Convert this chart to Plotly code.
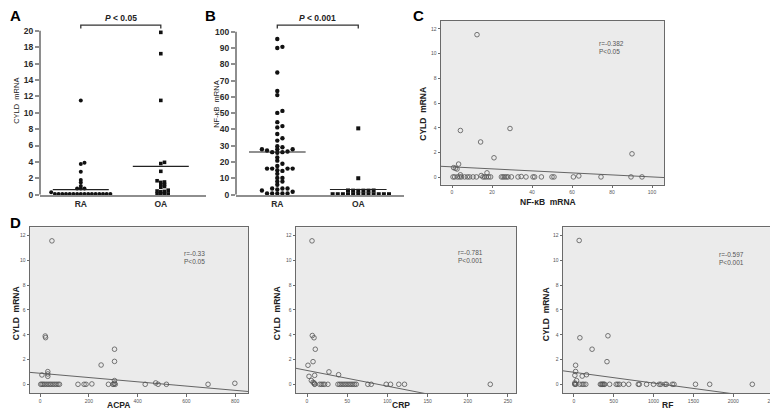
import plotly.graph_objects as go

W, H = 778, 411

# ---------------- data ----------------
groups = ["RA", "OA"]

# Panel A: CYLD mRNA
A_RA = [11.5, 3.9, 3.75, 2.8, 1.8, 1.5, 1.05, 0.75, 0.75, 0.75, 0.3,
        0.1, 0.1, 0.1, 0.1, 0.1, 0.1, 0.1, 0.1, 0.1, 0.1, 0.1, 0.1, 0.1, 0.1, 0.1, 0.1]
A_OA = [19.8, 17.2, 11.5, 3.95, 3.8, 2.85, 1.7, 1.55, 1.5, 1.25, 1.2, 1.0, 0.9,
        0.55, 0.45, 0.4, 0.35, 0.1, 0.1, 0.1, 0.1]
A_level = [0.62, 3.45]
A_ptext = "<i>P</i> < 0.05"

# Panel B: NF-kB mRNA
B_RA = [95.5, 90.7, 90.0, 75.0, 63.6, 61.1, 51.4, 50.2, 44.5, 42.1, 41.3, 37.2, 34.6,
        33.2, 29.8, 29.1, 27.9, 27.9, 27.9, 27.1, 26.5, 26.1, 26.1, 25.7, 22.9, 20.9,
        19.0, 17.6, 16.0, 16.0, 16.0, 16.0, 15.0, 14.6, 12.8, 10.3, 10.3, 8.1, 8.1, 6.1,
        3.8, 3.8, 3.8, 3.2, 2.6, 1.8, 0.8, 0.8, 0.8, 0.8, 0.8]
B_OA = [40.7, 10.1, 2.6, 2.5, 2.5, 2.4, 2.5, 2.6,
        0.3, 0.3, 0.3, 0.3, 0.3, 0.3, 0.3, 0.3, 0.3, 0.3, 0.3, 0.3]
B_level = [26.2, 3.2]
B_ptext = "<i>P</i> < 0.001"

# Panel C: CYLD vs NF-kB
C_nfkb = [12.5, 4.2, 29, 14.3, 90, 21, 3.3, 0.8, 1.7, 2.5, 17.5, 4.2, 14.6, 63.4, 34.6,
          0.5, 1.3, 2.7, 3.8, 4.7, 6.3, 7.7, 8.8, 10.5, 12.2, 15.5, 16.3, 17.2, 18.3, 19.3,
          24.7, 25.5, 26.3, 27.2, 28, 29.7, 33, 37, 40.5, 41.3, 44.7, 50, 51, 60.7, 74.5,
          89.5, 95]
C_cyld = [11.54, 3.78, 3.94, 2.85, 1.89, 1.57, 1.06, 0.77, 0.72, 0.66, 0.35, 0.19, 0.13, 0.10, 0.05,
          0.02, 0.02, 0.02, 0.02, 0.02, 0.02, 0.02, 0.02, 0.02, 0.02, 0.02, 0.02, 0.02, 0.02, 0.02,
          0.02, 0.02, 0.02, 0.02, 0.02, 0.02, 0.02, 0.02, 0.02, 0.02, 0.02, 0.02, 0.02, 0.02, 0.02,
          0.02, 0.02]
C_fit = [0.835, -0.00816]
C_stat = ["r=-0.382", "P<0.05"]

# Panel D1: CYLD vs ACPA
D1_acpa = [48, 20.5, 22, 305, 305, 250, 31, 31, 31, 7, 305, 474, 799, 305, 212,
           2, 7, 12, 18, 25, 32, 39, 45, 52, 59, 66, 73, 79, 155, 180, 188, 280, 298,
           302, 308, 431, 484, 518, 689]
D1_cyld = [11.55, 3.9, 3.77, 2.84, 1.86, 1.57, 1.04, 0.85, 0.66, 0.77, 0.32, 0.13, 0.10, 0.10, 0.05,
           0.02, 0.02, 0.02, 0.02, 0.02, 0.02, 0.02, 0.02, 0.02, 0.02, 0.02, 0.02, 0.02, 0.02,
           0.02, 0.02, 0.02, 0.02, 0.02, 0.02, 0.02, 0.02, 0.02, 0.02]
D1_fit = [0.905, -0.001713]
D1_stat = ["r=-0.33", "P<0.05"]

# Panel D2: CYLD vs CRP
D2_crp = [6.2, 6.6, 8.7, 10.3, 7.5, 1.2, 27.3, 39.3, 2.5, 9.5, 5.4, 7.5, 8.7, 9.5,
          9.5, 15.7, 17.8, 19.9, 21.9, 26, 38.5, 40.6, 42.6, 44.7, 46.8, 48.8, 50.9, 53,
          55, 57, 59.2, 61.3, 75.7, 79.9, 98.5, 103.9, 114.2, 121.3, 228]
D2_cyld = [11.55, 3.94, 3.76, 2.84, 1.84, 1.55, 1.02, 0.79, 0.66, 0.74, 0.32, 0.18, 0.13, 0.05,
           0.02, 0.02, 0.02, 0.02, 0.02, 0.02, 0.02, 0.02, 0.02, 0.02, 0.02, 0.02, 0.02, 0.02,
           0.02, 0.02, 0.02, 0.02, 0.02, 0.02, 0.02, 0.02, 0.02, 0.02, 0.02]
D2_fit = [1.133, -0.01263]
D2_stat = ["r=-0.781", "P<0.001"]

# Panel D3: CYLD vs RF
D3_rf = [66, 75, 427, 228, 415, 21, 21, 12, 158, 104, 33, 12, 12,
         12, 25, 75, 104, 124, 149, 332, 344, 357, 365, 377, 386, 448, 531, 551, 572,
         622, 688, 808, 821, 912, 999, 1070, 1091, 1144, 1161, 1235, 1256, 1526, 1704, 2239]
D3_cyld = [11.58, 3.76, 3.92, 2.84, 1.84, 1.55, 1.05, 0.74, 0.79, 0.68, 0.32, 0.13, 0.05,
           0.02, 0.02, 0.02, 0.02, 0.02, 0.02, 0.02, 0.02, 0.02, 0.02, 0.02, 0.02, 0.02, 0.02,
           0.02, 0.02, 0.02, 0.02, 0.02, 0.02, 0.02, 0.02, 0.02, 0.02, 0.02, 0.02, 0.02, 0.02,
           0.02, 0.02, 0.02]
D3_fit = [0.985, -0.000865]
D3_stat = ["r=-0.597", "P<0.001"]

# ---------------- helpers ----------------
FONT = "Liberation Sans, Arial, sans-serif"
AXG = "#8e8e8e"
BOX = "#6a6a6a"
PT = "#555555"


def pxx(px):
    return px / W


def pxy(py):
    return 1 - py / H


def swarm(vals, ypx, xpx, dx, dy):
    """deterministic beeswarm offsets (category units); rectangular collision box"""
    placed = []
    offs = [0.0] * len(vals)
    order = sorted(range(len(vals)), key=lambda i: vals[i])
    step = dx / 2
    cands = [0.0] + [s * j * step for j in range(1, 80) for s in (1, -1)]
    for i in order:
        y = vals[i] * ypx
        cx = 0.0
        for c in cands:
            if all(abs(c - px) >= dx - 1e-9 or abs(y - py) >= dy for px, py in placed):
                cx = c
                break
        placed.append((cx, y))
        offs[i] = cx / xpx
    return offs


fig = go.Figure()


# ---------- dot panels A, B ----------
def dot_panel(xa, ya, ra, oa, levels, ypx, xpx, dx, dy, msize):
    for gi, (vals, sym) in enumerate([(ra, "circle"), (oa, "square")]):
        off = swarm(vals, ypx, xpx, dx, dy)
        fig.add_trace(go.Scatter(
            x=[gi + o for o in off], y=vals, mode="markers",
            marker=dict(symbol=sym, size=msize if sym == "circle" else msize - 0.4,
                        color="#111111"),
            xaxis=xa, yaxis=ya, cliponaxis=False, showlegend=False, hoverinfo="skip"))
        fig.add_trace(go.Scatter(
            x=[gi - 0.35, gi + 0.35], y=[levels[gi], levels[gi]], mode="lines",
            line=dict(color="#222222", width=1.1),
            xaxis=xa, yaxis=ya, showlegend=False, hoverinfo="skip"))


A_YPX = 166 / 20.0
B_YPX = 165 / 100.0
dot_panel("x", "y", A_RA, A_OA, A_level, A_YPX, 80, 3.7, 2.0, 4.0)
dot_panel("x2", "y2", B_RA, B_OA, B_level, B_YPX, 79, 5.0, 3.0, 4.4)

# brackets
for xa, ya, ypx in [("x", "y", A_YPX), ("x2", "y2", B_YPX)]:
    hi = (189 - 17.3) / ypx
    lo = (189 - 20.8) / ypx
    fig.add_trace(go.Scatter(x=[0, 0, 1, 1], y=[lo, hi, hi, lo], mode="lines",
                             line=dict(color="#333333", width=1.3),
                             xaxis=xa, yaxis=ya, showlegend=False, hoverinfo="skip"))

# ---------- scatter panels ----------
scat = [
    ("x3", "y3", C_nfkb, C_cyld, C_fit, [-5.5, 106]),
    ("x4", "y4", D1_acpa, D1_cyld, D1_fit, [-42, 853]),
    ("x5", "y5", D2_crp, D2_cyld, D2_fit, [-13.7, 260]),
    ("x6", "y6", D3_rf, D3_cyld, D3_fit, [-137, 2574]),
]
for xa, ya, xs, ys, fit, xr in scat:
    fig.add_trace(go.Scatter(
        x=xs, y=ys, mode="markers",
        marker=dict(symbol="circle-open", size=4.6, color=PT, line=dict(width=0.8, color=PT)),
        xaxis=xa, yaxis=ya, showlegend=False, hoverinfo="skip"))
    fig.add_trace(go.Scatter(
        x=xr, y=[fit[0] + fit[1] * v for v in xr], mode="lines",
        line=dict(color="#555555", width=0.9),
        xaxis=xa, yaxis=ya, showlegend=False, hoverinfo="skip"))

# ---------------- layout ----------------
bold_tick = dict(family=FONT, size=8.5, color="#2a2a2a")
small_tick = dict(family=FONT, size=5, color="#555555")

layout = dict(
    width=W, height=H, margin=dict(l=0, r=0, t=0, b=0),
    paper_bgcolor="white", plot_bgcolor="white",
    font=dict(family=FONT, color="#222222"),
    showlegend=False,
)


def dot_axes(n, xd, yd, yr, tv):
    sx = "" if n == 1 else str(n)
    layout["xaxis" + sx] = dict(domain=xd, range=[-0.51, 1.565], anchor="y" + sx,
                                showline=True, linecolor=AXG, linewidth=2,
                                tickvals=[0, 1], ticktext=["<b>%s</b>" % g for g in groups],
                                ticks="", showgrid=False, zeroline=False, tickfont=bold_tick,
                                fixedrange=True)
    layout["yaxis" + sx] = dict(domain=yd, range=yr, anchor="x" + sx, showline=False,
                                tickvals=tv, ticktext=["<b>%d</b>" % v for v in tv],
                                ticks="outside", ticklen=4, tickwidth=1.5, tickcolor=AXG,
                                showgrid=False, zeroline=False, tickfont=bold_tick,
                                fixedrange=True)


dot_axes(1, [pxx(32), pxx(198)], [pxy(189), pxy(5)], [0, 184 / A_YPX], list(range(0, 21, 2)))
dot_axes(2, [pxx(228), pxx(396)], [pxy(189), pxy(5)], [0, 184 / B_YPX], list(range(0, 101, 10)))


def box_axes(n, xd, yd, xr, yr, xt):
    sx = str(n)
    common = dict(showline=True, mirror=True, linecolor=BOX, linewidth=1,
                  ticks="outside", ticklen=2.5, tickwidth=0.8, tickcolor=BOX,
                  showgrid=False, zeroline=False, tickfont=small_tick, fixedrange=True)
    layout["xaxis" + sx] = dict(domain=xd, range=xr, anchor="y" + sx, tickvals=xt, **common)
    layout["yaxis" + sx] = dict(domain=yd, range=yr, anchor="x" + sx,
                                tickvals=list(range(0, 13, 2)), **common)


box_axes(3, [pxx(433), pxx(656)], [pxy(179), pxy(13)], [-5.5, 106], [-0.62, 12.66],
         [0, 20, 40, 60, 80, 100])
box_axes(4, [pxx(22), pxx(240)], [pxy(390), pxy(222)], [-42, 853], [-0.7, 12.64],
         [0, 200, 400, 600, 800])
box_axes(5, [pxx(288), pxx(508)], [pxy(390), pxy(222)], [-13.7, 260], [-0.7, 12.64],
         [0, 50, 100, 150, 200, 250])
box_axes(6, [pxx(555), pxx(771)], [pxy(390), pxy(222)], [-137, 2574], [-0.7, 12.64],
         [0, 500, 1000, 1500, 2000, 2500])

shapes = []
for n in [3, 4, 5, 6]:
    shapes.append(dict(type="rect", xref="x%d domain" % n, yref="y%d domain" % n,
                       x0=0, x1=1, y0=0, y1=1, fillcolor="#ebebeb",
                       line=dict(width=0), layer="below"))
shapes.append(dict(type="line", xref="x domain", yref="y", x0=0, x1=0, y0=0, y1=20,
                   line=dict(color=AXG, width=2)))
shapes.append(dict(type="line", xref="x2 domain", yref="y2", x0=0, x1=0, y0=0, y1=100,
                   line=dict(color=AXG, width=2)))
layout["shapes"] = shapes

ann = []


def text(x, y, s, size, bold=False, angle=0, color="#222222", xanchor="center"):
    ann.append(dict(x=pxx(x), y=pxy(y), xref="paper", yref="paper",
                    text=("<b>%s</b>" % s) if bold else s, showarrow=False,
                    textangle=angle, xanchor=xanchor, yanchor="middle",
                    font=dict(family=FONT, size=size, color=color)))


# panel letters
text(7, 8, "A", 15, True, color="#000")
text(202, 8, "B", 15, True, color="#000")
text(411, 8, "C", 15, True, color="#000")
text(7, 217, "D", 15, True, color="#000")

# P-values over brackets
ann.append(dict(x=0.5, y=(189 - 10) / A_YPX, xref="x", yref="y", text="<b>%s</b>" % A_ptext,
                showarrow=False, font=dict(family=FONT, size=8.5, color="#222")))
ann.append(dict(x=0.5, y=(189 - 10) / B_YPX, xref="x2", yref="y2", text="<b>%s</b>" % B_ptext,
                showarrow=False, font=dict(family=FONT, size=8.5, color="#222")))

# dot-panel y titles
text(9, 94, "CYLD  mRNA", 7.5, angle=-90)
text(209, 97, "NF-κB  mRNA", 7.5, angle=-90)

# scatter titles
text(540, 196, "NF-κB  mRNA", 8.5, True)
text(415, 107, "CYLD  mRNA", 8.5, True, angle=-90)
text(110, 402, "ACPA", 8.5, True)
text(393, 402, "CRP", 8.5, True)
text(659, 402, "RF", 8.5, True)
text(8, 309, "CYLD  mRNA", 8.5, True, angle=-90)
text(269, 309, "CYLD  mRNA", 8.5, True, angle=-90)
text(538, 310, "CYLD  mRNA", 8.5, True, angle=-90)

# correlation statistics (data coords)
stat_pos = [("x3", "y3", 72.5, 10.5, C_stat), ("x4", "y4", 582, 10.2, D1_stat),
            ("x5", "y5", 185, 10.3, D2_stat), ("x6", "y6", 1791, 10.1, D3_stat)]
for xa, ya, sx, sy, st in stat_pos:
    ann.append(dict(x=sx, y=sy, xref=xa, yref=ya, text="<br>".join(st), showarrow=False,
                    xanchor="left", yanchor="middle", align="left",
                    font=dict(family=FONT, size=6.5, color="#555555")))

layout["annotations"] = ann
fig.update_layout(**layout)
fig.write_html("out.html")
